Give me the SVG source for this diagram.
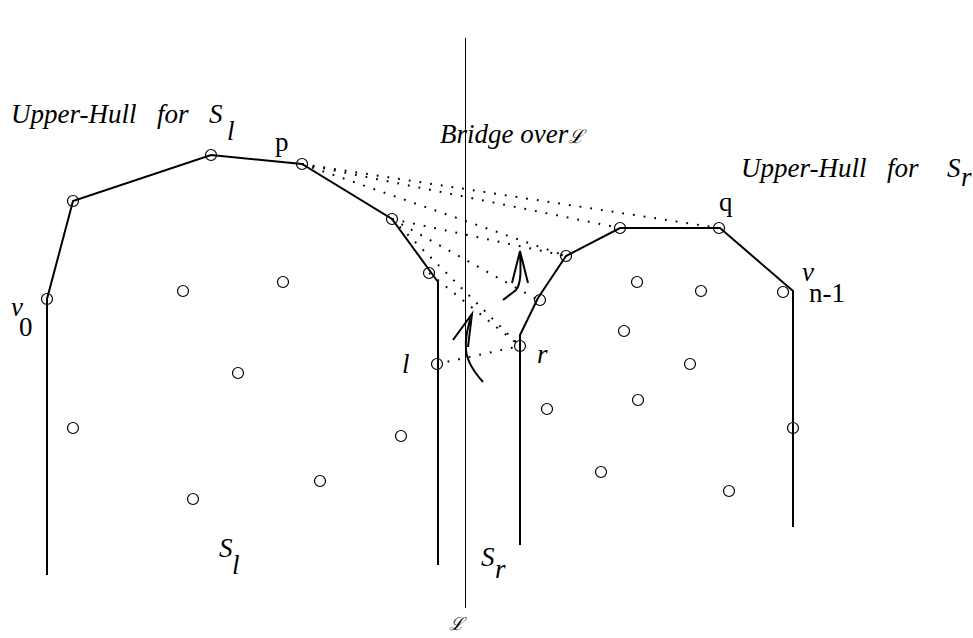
<svg xmlns="http://www.w3.org/2000/svg" width="973" height="638" viewBox="0 0 973 638">
<style>
.hull{fill:none;stroke:#000;stroke-width:2;stroke-linejoin:miter}
.pt{fill:none;stroke:#000;stroke-width:1.2}
.dot{fill:none;stroke:#000;stroke-width:2;stroke-dasharray:1.8 9}
.arr{fill:none;stroke:#000;stroke-width:2}
.it{font-family:"Liberation Serif","Times New Roman",serif;font-style:italic;font-size:27px;fill:#000}
.rm{font-family:"Liberation Serif","Times New Roman",serif;font-size:27px;fill:#000}
.scr{font-family:"DejaVu Serif",serif;font-style:italic;fill:#000}
</style>
<rect width="973" height="638" fill="#fff"/>
<g id="connectors">
  <line x1="465.5" y1="38" x2="465.5" y2="608" stroke="#000" stroke-width="1"/>
  <polyline class="hull" points="47,575 47,299 73,201 211,155 302,164 392,219 438,282 438,565"/>
  <polyline class="hull" points="520,545 520,335 538,298 566,256 620,228 720,228 793,291 793,527"/>
  <line class="dot" x1="302" y1="164" x2="719" y2="228"/>
  <line class="dot" x1="302" y1="164" x2="620" y2="228"/>
  <line class="dot" x1="302" y1="164" x2="566" y2="256"/>
  <line class="dot" x1="392" y1="219" x2="566" y2="256"/>
  <line class="dot" x1="392" y1="219" x2="538" y2="300"/>
  <line class="dot" x1="392" y1="219" x2="520" y2="346"/>
  <line class="dot" x1="429" y1="273" x2="520" y2="346"/>
  <line class="dot" x1="437" y1="364" x2="520" y2="346"/>
  <path class="arr" d="M483,382 C474,372 467,362 466,350 C465,338 468,325 472,314 M453,340 L472,314 L468,347"/>
  <path class="arr" d="M503,300 L516,290 C521,284 521,272 520,251 M512,283 L520,251 L528,283"/>
</g>
<g id="points-left">
  <g id="v0"><circle class="pt" cx="47" cy="299" r="5.5"/></g>
  <g id="a1"><circle class="pt" cx="73" cy="201" r="5.5"/></g>
  <g id="a2"><circle class="pt" cx="211" cy="155" r="5.5"/></g>
  <g id="p"><circle class="pt" cx="302" cy="164" r="5.5"/></g>
  <g id="a4"><circle class="pt" cx="392" cy="219" r="5.5"/></g>
  <g id="a5"><circle class="pt" cx="429" cy="273" r="5.5"/></g>
  <g id="l"><circle class="pt" cx="437" cy="364" r="5.5"/></g>
  <g id="b1"><circle class="pt" cx="183" cy="291" r="5.5"/></g>
  <g id="b2"><circle class="pt" cx="283" cy="282" r="5.5"/></g>
  <g id="b3"><circle class="pt" cx="238" cy="373" r="5.5"/></g>
  <g id="b4"><circle class="pt" cx="73" cy="428" r="5.5"/></g>
  <g id="b5"><circle class="pt" cx="401" cy="436" r="5.5"/></g>
  <g id="b6"><circle class="pt" cx="320" cy="481" r="5.5"/></g>
  <g id="b7"><circle class="pt" cx="193" cy="499" r="5.5"/></g>
</g>
<g id="points-right">
  <g id="r"><circle class="pt" cx="520" cy="346" r="5.5"/></g>
  <g id="c1"><circle class="pt" cx="540" cy="300" r="5.5"/></g>
  <g id="c2"><circle class="pt" cx="566" cy="256" r="5.5"/></g>
  <g id="c3"><circle class="pt" cx="620" cy="228" r="5.5"/></g>
  <g id="q"><circle class="pt" cx="719" cy="228" r="5.5"/></g>
  <g id="vn1"><circle class="pt" cx="783" cy="292" r="5.5"/></g>
  <g id="d1"><circle class="pt" cx="637" cy="282" r="5.5"/></g>
  <g id="d2"><circle class="pt" cx="701" cy="291" r="5.5"/></g>
  <g id="d3"><circle class="pt" cx="624" cy="331" r="5.5"/></g>
  <g id="d4"><circle class="pt" cx="690" cy="364" r="5.5"/></g>
  <g id="d5"><circle class="pt" cx="547" cy="409" r="5.5"/></g>
  <g id="d6"><circle class="pt" cx="638" cy="400" r="5.5"/></g>
  <g id="d7"><circle class="pt" cx="793" cy="428" r="5.5"/></g>
  <g id="d8"><circle class="pt" cx="601" cy="472" r="5.5"/></g>
  <g id="d9"><circle class="pt" cx="729" cy="491" r="5.5"/></g>
</g>
<g id="labels">
  <text class="it" x="11" y="123">Upper-Hull</text>
  <text class="it" x="157" y="123">for</text>
  <text class="it" x="209" y="123">S</text>
  <text class="it" x="227" y="140">l</text>
  <text class="rm" x="275" y="151">p</text>
  <text class="it" x="440" y="143" font-size="26">Bridge over<tspan class="scr" font-size="19">ℒ</tspan></text>
  <text class="it" x="741" y="177">Upper-Hull</text>
  <text class="it" x="887" y="177">for</text>
  <text class="it" x="947" y="177">S</text>
  <text class="it" x="961" y="186">r</text>
  <text class="rm" x="719" y="211">q</text>
  <text class="it" x="802" y="281">v</text>
  <text class="rm" x="809" y="302">n-1</text>
  <text class="it" x="11" y="316">v</text>
  <text class="rm" x="19" y="336">0</text>
  <text class="it" x="402" y="373">l</text>
  <text class="it" x="537" y="363">r</text>
  <text class="it" x="219" y="557">S</text>
  <text class="it" x="232" y="574">l</text>
  <text class="it" x="481" y="566">S</text>
  <text class="it" x="495" y="578">r</text>
  <text class="scr" x="449" y="630" font-size="18">ℒ</text>
</g>
</svg>
